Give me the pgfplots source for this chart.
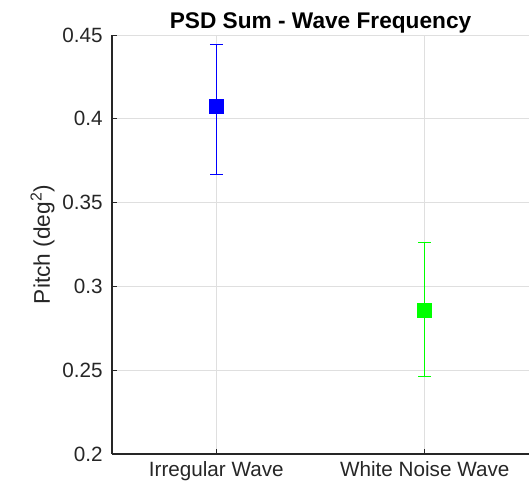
\documentclass[border=0pt]{standalone}
\usepackage{fontspec}
\setmainfont{Liberation Sans}
\usepackage{pgfplots}
\pgfplotsset{compat=1.18}

\begin{document}
\begin{tikzpicture}
\begin{axis}[
name=ax,
scale only axis,
width=312.75pt, height=314.25pt,
xmin=0.5, xmax=2.5,
ymin=0.2, ymax=0.45,
xtick={1,2},
xticklabels={Irregular Wave, White Noise Wave},
ytick={0.2,0.25,0.3,0.35,0.4,0.45},
yticklabel style={/pgf/number format/fixed, /pgf/number format/precision=2, xshift=-3.5pt},
/pgf/number format/assume math mode=true,
axis x line*=bottom,
axis y line*=left,
axis line style={-, black!85, line width=0.8pt},
tick align=inside,
major tick length=4pt,
tick style={black!85, line width=0.6pt},
grid=major,
grid style={gray!25, line width=0.6pt},
ticklabel style={font=\fontsize{15.5}{17}\selectfont, text=black!85},
xticklabel style={yshift=-2pt},
ylabel={Pitch (deg\textsuperscript{2})},
ylabel style={font=\fontsize{17}{19}\selectfont, text=black!85, yshift=-1pt},
title={\textbf{PSD Sum - Wave Frequency}},
title style={font=\fontsize{17}{19}\selectfont, yshift=-8pt},
clip=false,
]

% Irregular Wave
\addplot[blue, line width=0.7pt, mark=square*, mark size=5.3pt,
  error bars/.cd, y dir=both, y explicit,
  error mark options={rotate=90, mark size=4.8pt, line width=0.7pt, blue}]
coordinates {(1,0.4076) += (0,0.0366) -= (0,0.0411)};

% White Noise Wave
\addplot[green, line width=0.7pt, mark=square*, mark size=5.3pt,
  error bars/.cd, y dir=both, y explicit,
  error mark options={rotate=90, mark size=4.8pt, line width=0.7pt, green}]
coordinates {(2,0.2856) += (0,0.0404) -= (0,0.0391)};

\end{axis}
\pgfresetboundingbox
\path[use as bounding box] ([shift={(-84pt,-25.5pt)}]ax.south west) rectangle ([shift={(0pt,26.25pt)}]ax.north east);
\end{tikzpicture}
\end{document}
